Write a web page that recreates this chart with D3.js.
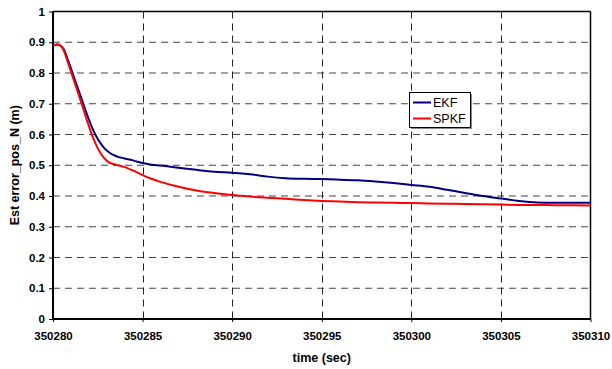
<!DOCTYPE html>
<html><head><meta charset="utf-8">
<script src="https://cdn.jsdelivr.net/npm/d3@7"></script>
<style>body{margin:0;background:#fff}svg{display:block;font-family:"Liberation Sans",Arial,sans-serif}</style>
</head><body><svg id="c" width="612" height="369"></svg>
<script>
const xTicks = [350280,350285,350290,350295,350300,350305,350310];
const yTicks = [0,0.1,0.2,0.3,0.4,0.5,0.6,0.7,0.8,0.9,1];
const seriesNames = ["EKF","SPKF"];
const seriesColors = ["#000080","#ff0000"];
const tOffsets = [0,0.2,0.4,0.6,0.8,1.0,1.3,1.6,1.9,2.2,2.5,2.8,3.1,3.5,4,4.5,5,5.5,6,7,8,9,10,11,12,13,14,15,16,17,18,19,20,21,22,23,24,25,26,27,28,29,30];
const ekf = [0.888,0.893,0.89,0.877,0.848,0.815,0.765,0.715,0.665,0.62,0.585,0.56,0.543,0.53,0.522,0.515,0.507,0.502,0.499,0.492,0.485,0.479,0.476,0.471,0.463,0.458,0.456,0.455,0.453,0.451,0.447,0.442,0.436,0.43,0.42,0.41,0.40,0.392,0.384,0.379,0.378,0.378,0.378];
const spkf = [0.888,0.893,0.89,0.873,0.84,0.805,0.752,0.70,0.645,0.595,0.555,0.527,0.51,0.502,0.494,0.482,0.468,0.456,0.446,0.43,0.418,0.41,0.403,0.398,0.394,0.391,0.387,0.384,0.382,0.380,0.379,0.378,0.377,0.376,0.375,0.374,0.373,0.372,0.371,0.371,0.370,0.370,0.3695];

const svg = d3.select("#c");
const L=53, R=590.5, T=11.5, B=319;
const x = d3.scaleLinear().domain([350280,350310]).range([L,R]);
const y = d3.scaleLinear().domain([0,1]).range([B,T]);

// gridlines
svg.append("g").selectAll("line").data(yTicks.filter(v=>v>0&&v<1)).join("line")
  .attr("x1",L).attr("x2",R).attr("y1",d=>y(d)).attr("y2",d=>y(d))
  .attr("stroke","#444").attr("stroke-width",1.2).attr("stroke-dasharray","7,5");
svg.append("g").selectAll("line").data(xTicks.filter(v=>v>350280&&v<350310)).join("line")
  .attr("x1",d=>Math.round(x(d))+0.5).attr("x2",d=>Math.round(x(d))+0.5).attr("y1",T).attr("y2",B)
  .attr("stroke","#222").attr("stroke-width",1).attr("stroke-dasharray","7,5");

// frame
svg.append("line").attr("x1",L).attr("x2",R).attr("y1",T).attr("y2",T).attr("stroke","#000").attr("stroke-width",1.5);
svg.append("line").attr("x1",R).attr("x2",R).attr("y1",T).attr("y2",B).attr("stroke","#000").attr("stroke-width",1.5);

// axes
const yAxis = d3.axisLeft(y).tickValues(yTicks).tickFormat(d=>d3.format("")(+d.toFixed(1))).tickSize(4).tickPadding(4);
const gy = svg.append("g").attr("transform",`translate(${L},0)`).call(yAxis);
const xAxis = d3.axisBottom(x).tickValues(xTicks).tickFormat(d3.format("d")).tickSize(3).tickPadding(10);
const gx = svg.append("g").attr("transform",`translate(0,${B})`).call(xAxis);
[gx,gy].forEach(g=>{
  g.select(".domain").attr("stroke","#000").attr("stroke-width",2);
  g.selectAll(".tick line").attr("stroke","#000").attr("stroke-width",1);
  g.selectAll("text").attr("font-size",11.5).attr("font-weight","bold").attr("fill","#000")
    .style("font-family",'"Liberation Sans",Arial,sans-serif');
});
gx.select(".domain").attr("d",`M${L},0H${R}`);
gy.select(".domain").attr("d",`M0,${T}V${B}`);

// lines
const line = d3.line().x((d,i)=>x(350280+tOffsets[i])).y(d=>y(d)).curve(d3.curveMonotoneX);
[ekf,spkf].forEach((s,k)=>{
  svg.append("path").attr("d",line(s)).attr("fill","none").attr("stroke",seriesColors[k]).attr("stroke-width",2);
});

// axis titles
svg.append("text").attr("x",(L+R)/2).attr("y",362).attr("text-anchor","middle")
  .attr("font-size",12.5).attr("font-weight","bold").text("time (sec)");
svg.append("text").attr("transform",`translate(19,${(T+B)/2}) rotate(-90)`).attr("text-anchor","middle")
  .attr("font-size",12.5).attr("font-weight","bold").text("Est error_pos_N (m)");

// legend
const lg = svg.append("g");
lg.append("rect").attr("x",411).attr("y",94).attr("width",61).attr("height",35).attr("fill","#888");
lg.append("rect").attr("x",409.5).attr("y",92.5).attr("width",61).attr("height",35).attr("fill","#fff").attr("stroke","#000").attr("stroke-width",1);
seriesNames.forEach((n,i)=>{
  const yy = 102.5 + i*16;
  lg.append("line").attr("x1",413).attr("x2",431).attr("y1",yy).attr("y2",yy).attr("stroke",seriesColors[i]).attr("stroke-width",2);
  lg.append("text").attr("x",433).attr("y",yy+4.5).attr("font-size",12.5).text(n);
});
</script></body></html>
